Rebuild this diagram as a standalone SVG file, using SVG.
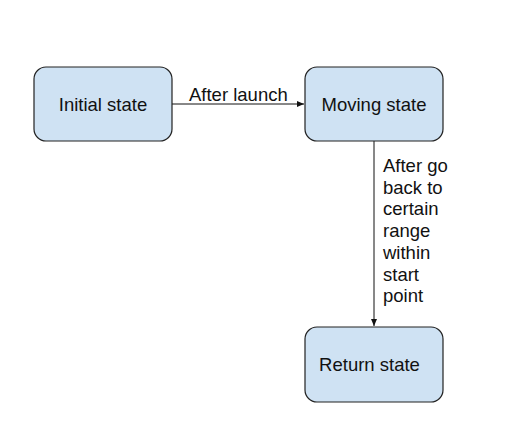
<svg xmlns="http://www.w3.org/2000/svg" width="506" height="444" viewBox="0 0 506 444">
<style>
.node{fill:#cfe2f3;stroke:#222;stroke-width:1.2}
.t{font-family:"Liberation Sans",Arial,sans-serif;font-size:18.5px;fill:#111}
.c{stroke:#111;stroke-width:1;fill:none}
</style>
<defs>
<marker id="ah" markerWidth="8" markerHeight="6" refX="7" refY="3" orient="auto" markerUnits="userSpaceOnUse">
<path d="M0,0 L7,3 L0,6 Z" fill="#111"/>
</marker>
</defs>
<rect width="506" height="444" fill="#fff"/>
<g id="connectors">
<line class="c" x1="172" y1="104" x2="304" y2="104" marker-end="url(#ah)"/>
<line class="c" x1="374" y1="141" x2="374" y2="326" marker-end="url(#ah)"/>
<text class="t" x="189" y="101">After launch</text>
<text class="t" x="383" y="172">After go</text>
<text class="t" x="383" y="193.7">back to</text>
<text class="t" x="383" y="215.4">certain</text>
<text class="t" x="383" y="237.1">range</text>
<text class="t" x="383" y="258.8">within</text>
<text class="t" x="383" y="280.5">start</text>
<text class="t" x="383" y="302.2">point</text>
</g>
<g id="initial">
<rect class="node" x="34" y="67" width="138" height="74" rx="12"/>
<text class="t" x="103" y="110.5" text-anchor="middle">Initial state</text>
</g>
<g id="moving">
<rect class="node" x="305" y="67" width="138" height="74" rx="12"/>
<text class="t" x="374" y="110.5" text-anchor="middle">Moving state</text>
</g>
<g id="return">
<rect class="node" x="305" y="327" width="138" height="75" rx="12"/>
<text class="t" x="369.5" y="371" text-anchor="middle">Return state</text>
</g>
</svg>
